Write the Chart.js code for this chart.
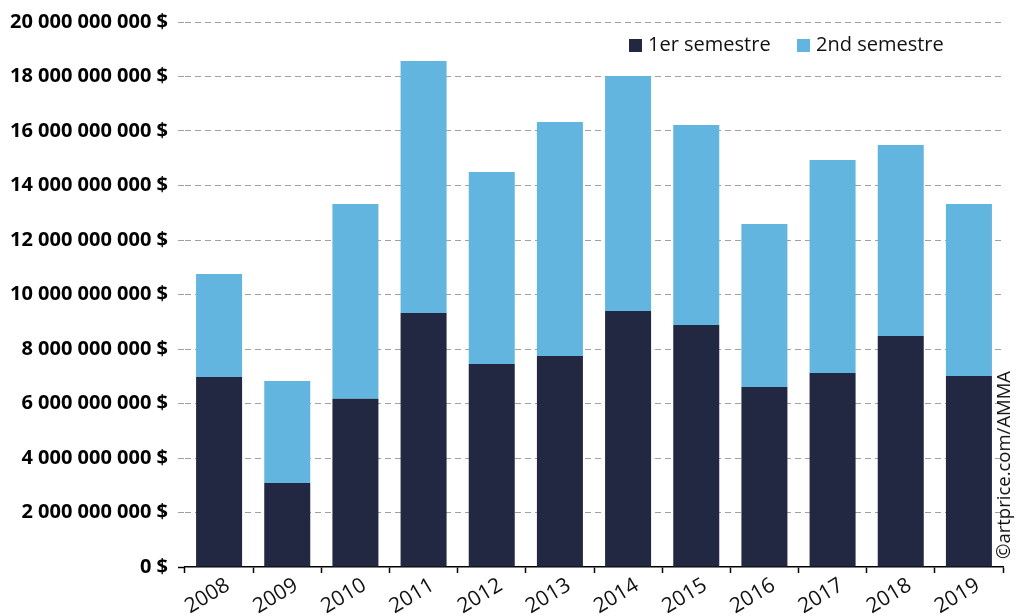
<!DOCTYPE html>
<html>
<head>
<meta charset="utf-8">
<script src="https://cdn.jsdelivr.net/npm/chart.js@4/dist/chart.umd.min.js"></script>
<style>
  html, body { margin: 0; padding: 0; background: #fff; }
  #wrap { position: relative; width: 1015px; height: 616px; font-family: 'Open Sans', sans-serif; }
  canvas { display: block; }
  .legend { position: absolute; top: 30px; left: 629px; font-size: 20px; color: #111; white-space: nowrap; }
  .legend span.item { position: absolute; top: 0; line-height: 28px; }
  .legend i { display: inline-block; width: 13px; height: 13px; vertical-align: -1px; margin-right: 6px; }
  .credit { position: absolute; left: 1003px; top: 465px; font-size: 18.5px; color: #111; white-space: nowrap;
            transform: translate(-50%, -50%) rotate(-90deg); line-height: 20px; }
</style>
</head>
<body>
<div id="wrap">
  <canvas id="chart-sales" width="1015" height="616"></canvas>
  <div class="legend">
    <span class="item" style="left:0"><i style="background:#222842"></i>1er semestre</span>
    <span class="item" style="left:168px"><i style="background:#62b5de"></i>2nd semestre</span>
  </div>
  <div class="credit">©artprice.com/AMMA</div>
</div>
<script>
// Values in billions of $
const years = ['2008', '2009', '2010', '2011', '2012', '2013', '2014', '2015', '2016', '2017', '2018', '2019'];
const firstHalf = [6.97, 3.08, 6.17, 9.32, 7.45, 7.74, 9.39, 8.88, 6.61, 7.12, 8.48, 7.01];
const secondHalf = [3.78, 3.75, 7.15, 9.25, 7.05, 8.59, 8.63, 7.34, 5.98, 7.82, 7.01, 6.31];
const seriesLabels = ['1er semestre', '2nd semestre'];
const BILLION = 1e9;

const NAVY = '#222842';
const SKY = '#62b5de';
const GRID = 'rgba(130,130,130,0.75)';

function fmtDollars(v) {
  return String(Math.round(v)).replace(/\B(?=(\d{3})+(?!\d))/g, ' ') + ' $';
}

const ctx = document.getElementById('chart-sales');
new Chart(ctx, {
  type: 'bar',
  data: {
    labels: years,
    datasets: [
      {
        label: seriesLabels[0],
        data: firstHalf.map(v => v * BILLION),
        backgroundColor: NAVY,
        categoryPercentage: 1,
        barPercentage: 0.675
      },
      {
        label: seriesLabels[1],
        data: secondHalf.map(v => v * BILLION),
        backgroundColor: SKY,
        categoryPercentage: 1,
        barPercentage: 0.675
      }
    ]
  },
  options: {
    responsive: false,
    animation: false,
    layout: { padding: { top: 22, right: 12, bottom: 0, left: 0 } },
    plugins: {
      legend: { display: false },
      tooltip: { enabled: false }
    },
    scales: {
      x: {
        stacked: true,
        afterFit: s => { s.height = 49; },
        border: { display: true, color: '#000', width: 1.5 },
        grid: {
          display: true,
          offset: true,
          drawOnChartArea: false,
          drawTicks: true,
          tickLength: 6,
          tickColor: '#000',
          tickWidth: 1.5
        },
        ticks: {
          color: '#111',
          font: { family: 'Open Sans', size: 21 },
          minRotation: 31,
          maxRotation: 31,
          labelOffset: 9,
          padding: 0
        }
      },
      y: {
        stacked: true,
        min: 0,
        max: 20 * BILLION,
        z: 1,
        afterFit: s => { s.width = 185; },
        border: { display: false, dash: [6, 4] },
        grid: {
          color: c => (c.tick && c.tick.value === 0) ? 'rgba(0,0,0,0)' : GRID,
          lineWidth: 1,
          tickLength: 7,
          tickColor: c => (c.tick && c.tick.value === 0) ? '#000' : GRID,
          tickWidth: c => (c.tick && c.tick.value === 0) ? 1.5 : 1,
          tickBorderDash: c => (c.tick && c.tick.value === 0) ? [] : [6, 4]
        },
        ticks: {
          stepSize: 2 * BILLION,
          color: '#000',
          padding: 10,
          font: { family: 'Open Sans', size: 20, weight: 'bold' },
          callback: v => fmtDollars(v)
        }
      }
    }
  }
});
</script>
</body>
</html>
